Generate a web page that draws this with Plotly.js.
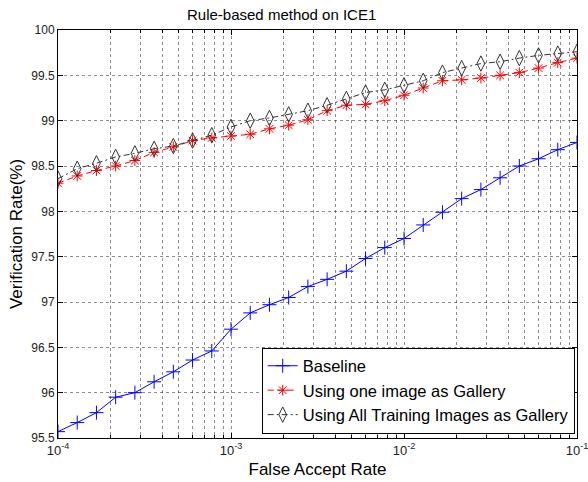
<!DOCTYPE html>
<html><head><meta charset="utf-8">
<script src="https://cdn.plot.ly/plotly-3.0.1.min.js"></script>
<style>body{margin:0;background:#fff}#g{width:588px;height:482px}</style>
</head><body><div id="g"></div>
<script>
const far = [1.0e-4,1.2915e-4,1.6681e-4,2.1544e-4,2.7826e-4,3.5938e-4,4.6416e-4,5.9948e-4,7.7426e-4,
  1.0e-3,1.2915e-3,1.6681e-3,2.1544e-3,2.7826e-3,3.5938e-3,4.6416e-3,5.9948e-3,7.7426e-3,
  1.0e-2,1.2915e-2,1.6681e-2,2.1544e-2,2.7826e-2,3.5938e-2,4.6416e-2,5.9948e-2,7.7426e-2,1.0e-1];
const baseline = [95.57,95.67,95.78,95.95,96.00,96.12,96.23,96.36,96.46,96.70,96.88,96.97,97.05,97.17,97.25,97.34,97.48,97.60,97.70,97.85,97.99,98.14,98.24,98.37,98.50,98.58,98.68,98.76];
const oneImage = [98.31,98.39,98.45,98.50,98.56,98.65,98.71,98.78,98.81,98.83,98.85,98.91,98.95,99.01,99.11,99.17,99.18,99.22,99.28,99.36,99.44,99.45,99.47,99.50,99.53,99.58,99.64,99.69];
const allImages = [98.36,98.47,98.53,98.60,98.64,98.69,98.72,98.78,98.84,98.93,99.00,99.03,99.07,99.11,99.17,99.24,99.31,99.34,99.39,99.44,99.53,99.58,99.63,99.65,99.69,99.72,99.74,99.76];
const names = ["Baseline","Using one image as Gallery","Using All Training Images as Gallery"];
const xTicks = [1e-4,1e-3,1e-2,1e-1];
const xTickText = ["10<sup>-4</sup>","10<sup>-3</sup>","10<sup>-2</sup>","10<sup>-1</sup>"];
const yTicks = [95.5,96,96.5,97,97.5,98,98.5,99,99.5,100];
const yTickText = ["95.5","96","96.5","97","97.5","98","98.5","99","99.5","100"];

const minorVals = [];
for (let d = -4; d < -1; d++) for (let m = 2; m <= 9; m++) minorVals.push(m*Math.pow(10,d));

const FONT = "Liberation Sans, Arial, Helvetica, sans-serif";
const traces = [
  {x: far, y: baseline, name: names[0], mode: "lines+markers",
   line: {color: "#0000ff", width: 1, dash: "solid"},
   marker: {symbol: "cross-thin-open", size: 10, line: {color: "#0000ff", width: 1}}},
  {x: far, y: oneImage, name: names[1], mode: "lines+markers",
   line: {color: "#ff0000", width: 1, dash: "6px,4px"},
   marker: {symbol: "asterisk-open", size: 9, line: {color: "#ff0000", width: 1}}},
  {x: far, y: allImages, name: names[2], mode: "lines+markers",
   line: {color: "#333333", width: 1, dash: "6px,3px,2px,3px"},
   marker: {symbol: "diamond-tall-open", size: 11, color: "#333333", line: {color: "#333333", width: 1}}}
];
const gridc = "rgba(0,0,0,0.45)";
const layout = {
  width: 588, height: 482,
  margin: {l: 58, r: 11, t: 30, b: 44},
  paper_bgcolor: "#fff", plot_bgcolor: "#fff",
  font: {family: FONT, size: 12, color: "#000"},
  title: {text: "Rule-based method on ICE1", font: {family: FONT, size: 15, color: "#000"}, x: 0.479, xanchor: "center", y: 0.969, yanchor: "middle"},
  xaxis: {type: "log", range: [-4, -1], tickmode: "array", tickvals: xTicks, ticktext: xTickText,
    ticklabeloverflow: "allow",
    ticks: "inside", ticklen: 5, tickcolor: "#000", mirror: "allticks",
    showline: true, linecolor: "#000", linewidth: 1,
    showgrid: true, gridcolor: gridc, griddash: "dot", gridwidth: 1,
    tickfont: {size: 13, color: "#222"},
    minor: {tickmode: "array", tickvals: minorVals, ticks: "inside", ticklen: 3, tickcolor: "#000",
      showgrid: true, gridcolor: gridc, griddash: "dot", gridwidth: 1},
    title: {text: "False Accept Rate", font: {size: 17}, standoff: 6},
    zeroline: false},
  yaxis: {range: [95.5, 100], tickmode: "array", tickvals: yTicks, ticktext: yTickText,
    ticks: "inside", ticklen: 5, tickcolor: "#000", mirror: "allticks",
    showline: true, linecolor: "#000", linewidth: 1,
    showgrid: true, gridcolor: gridc, griddash: "dot", gridwidth: 1,
    tickfont: {size: 12, color: "#222"},
    title: {text: "Verification Rate(%)", font: {size: 17}, standoff: 4},
    zeroline: false},
  legend: {x: 0.9956, xanchor: "right", y: 0.011, yanchor: "bottom",
    bgcolor: "#fff", bordercolor: "#000", borderwidth: 1,
    font: {size: 16.5}, tracegroupgap: 0, itemwidth: 30},
  showlegend: true
};
Plotly.newPlot("g", traces, layout, {displayModeBar: false, staticPlot: true});
</script></body></html>
